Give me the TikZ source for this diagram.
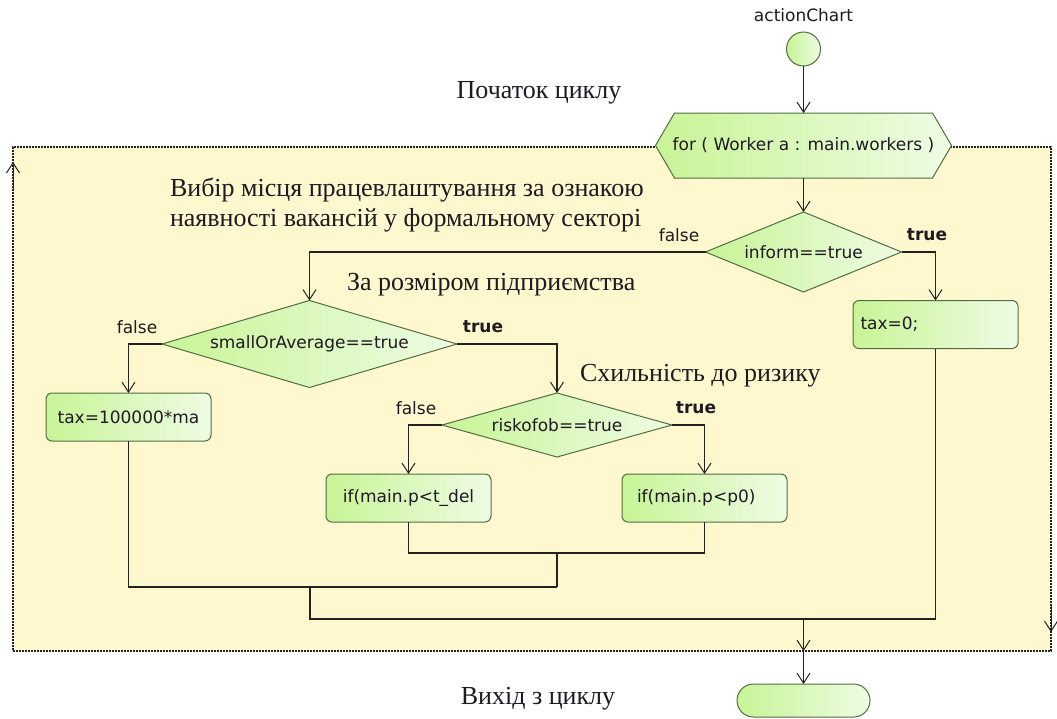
\documentclass[tikz,border=0pt]{standalone}
\usepackage{fontspec}
\setmainfont{Liberation Serif}
\newfontfamily\djv{DejaVu Sans}
\usetikzlibrary{arrows.meta,shapes.geometric,shapes.misc,backgrounds,calc}
\definecolor{framefill}{RGB}{255,247,205}
\definecolor{gL}{RGB}{200,244,150}
\definecolor{gR}{RGB}{238,252,228}
\definecolor{gB}{RGB}{80,110,65}
\definecolor{ln}{RGB}{35,35,35}
\definecolor{txt}{RGB}{30,25,35}
\begin{document}
\begin{tikzpicture}[x=1pt,y=-1pt,
  every node/.style={inner sep=0pt, outer sep=0pt, text=txt},
  code/.style={font=\djv\fontsize{17}{20}\selectfont},
  codeb/.style={font=\djv\bfseries\fontsize{17}{20}\selectfont},
  title/.style={font=\fontsize{26}{30}\selectfont},
  shade green/.style={left color=gL, right color=gR},
  act/.style={code, draw=gB, line width=1pt, rounded corners=6pt, shade green, minimum width=165pt, minimum height=48pt},
  dec/.style={code, diamond, draw=gB, line width=1pt, shade green},
  conn/.style={draw=ln, line width=1.1pt},
  arr/.style={conn, -{Straight Barb[length=10pt,width=13pt,line width=1pt]}},
  framearr/.style={draw=ln, line width=1pt, dash pattern=on 2pt off 1pt, -{Straight Barb[length=10pt,width=13pt,line width=1pt]}},
]
\useasboundingbox (0,0) rectangle (1057,718);

% frame and hexagon text node
\node[code, minimum width=296pt, minimum height=65pt] (for) at (803.5,145.5) {for ( Worker a : main.workers )};
\begin{scope}[on background layer]
  \node[draw=ln, dash pattern=on 2pt off 1pt, line width=1.1pt, fill=framefill,
        minimum width=1038pt, minimum height=504pt] (loop) at (532,399) {};
  \path[draw=gB, line width=1pt, shade green]
    (for.west) -- ([xshift=19pt]for.north west) -- ([xshift=-19pt]for.north east)
    -- (for.east) -- ([xshift=-19pt]for.south east) -- ([xshift=19pt]for.south west) -- cycle;
\end{scope}

% start / end
\node[code] (lbl) at (803.5,15) {actionChart};
\node[circle, draw=gB, line width=1pt, shade green, minimum size=34pt] (start) at (803.5,49) {};
\node[rounded rectangle, draw=gB, line width=1pt, shade green, minimum width=133pt, minimum height=33pt] (end) at (803.5,700.5) {};

% decisions
\node[dec, shape aspect=2.45, minimum width=196pt, minimum height=80pt] (inform) at (803.5,252) {inform==true};
\node[dec, shape aspect=3.4, minimum width=295pt, minimum height=87pt] (small) at (309.5,344) {smallOrAverage==true};
\node[dec, shape aspect=3.6, minimum width=230pt, minimum height=64pt] (risk) at (557,425) {riskofob==true};

% actions
\node[act, text width=150pt, align=left, inner xsep=7.5pt] (tax0) at (935.5,324.5) {tax=0;};
\node[act] (taxma) at (128.5,417) {tax=100000*ma};
\node[act] (tdel) at (408.5,498) {if(main.p<t\_del};
\node[act, text width=135pt, align=left, inner xsep=15pt] (p0) at (704.5,498) {if(main.p<p0)};

% branch labels
\node[code] (f1) at (679,235) {false};
\node[codeb] (tr1) at (927,235) {true};
\node[code] (f2) at (137,327) {false};
\node[codeb] (tr2) at (483,327) {true};
\node[code] (f3) at (416,408) {false};
\node[codeb] (tr3) at (696,408) {true};

% titles
\node[title] (t1) at (539,93) {Початок циклу};
\node[title, anchor=west, align=left] (t2) at (170,205) {Вибір місця працевлаштування за ознакою\\наявності вакансій у формальному секторі};
\node[title, anchor=west] (t3) at (347,285) {За розміром підприємства};
\node[title, anchor=west] (t4) at (580,376) {Схильність до ризику};
\node[title] (t5) at (538,699) {Вихід з циклу};

% connectors
\draw[arr] (start) -- (for);
\draw[arr] (for) -- (inform);
\draw[arr] (inform.east) -| (tax0.north);
\draw[arr] (inform.west) -| (small.north);
\draw[arr] (small.west) -| (taxma.north);
\draw[arr] (small.east) -| (risk.north);
\draw[arr] (risk.west) -| (tdel.north);
\draw[arr] (risk.east) -| (p0.north);

\coordinate (m1) at (557,553);
\coordinate (m2) at (557,587);
\coordinate (m3) at (310,587);
\coordinate (m4) at (803.5,619);
\draw[conn] (tdel.south) |- (m1) -| (p0.south);
\draw[conn] (m1) -- (m2);
\draw[conn] (taxma.south) |- (m2);
\draw[conn] (m3) |- (m4) -| (tax0.south);
\coordinate (fb) at (m4 |- loop.south);
\draw[arr] (m4) -- (fb);
\draw[arr] (fb) -- (end.north);

% loop frame arrows
\coordinate (la1) at (13,190);
\coordinate (la2) at (13,162);
\coordinate (ra1) at (1051,605);
\coordinate (ra2) at (1051,632);
\draw[framearr] (la1) -- (la2);
\draw[framearr] (ra1) -- (ra2);
\end{tikzpicture}
\end{document}
